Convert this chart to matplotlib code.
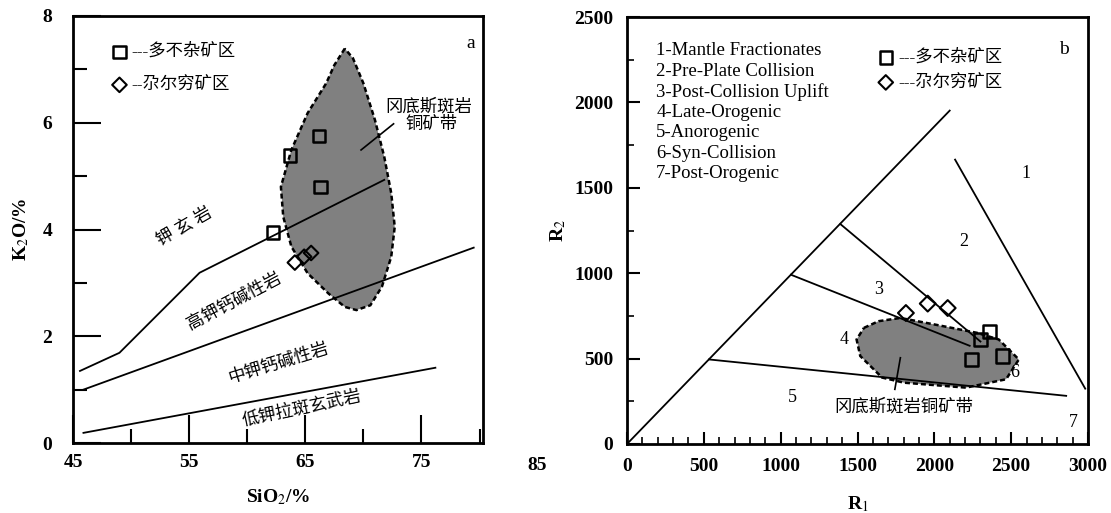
#!/usr/bin/env python
import numpy as np
import matplotlib
matplotlib.use('Agg')
from matplotlib import pyplot as plt
from matplotlib.patches import Polygon

plt.rcParams['font.family'] = ['Liberation Serif', 'Noto Sans CJK SC']
plt.rcParams['mathtext.fontset'] = 'stix'

### data: panel a (SiO2 - K2O) ###
shosh_x = [45.6, 49.0, 55.9, 71.8]
shosh_y = [1.35, 1.69, 3.19, 4.93]
hk_x = [45.9, 79.5]
hk_y = [1.00, 3.66]
mk_x = [45.9, 76.2]
mk_y = [0.19, 1.41]

blob_a_x = [68.4, 67.5, 66.8, 65.2, 63.8, 62.9, 63.1, 63.8, 65.2, 67.0, 68.4,
            69.4, 70.6, 71.6, 72.4, 72.7, 72.4, 71.8, 71.0, 70.0, 69.1]
blob_a_y = [7.39, 7.08, 6.74, 6.18, 5.49, 4.80, 4.24, 3.68, 3.18, 2.80, 2.55,
            2.49, 2.58, 2.93, 3.49, 4.05, 4.68, 5.36, 6.05, 6.74, 7.21]

sq_a_x = [62.2, 63.7, 66.2, 66.3]
sq_a_y = [3.94, 5.39, 5.75, 4.80]
di_a_x = [64.1, 64.9, 65.5]
di_a_y = [3.38, 3.49, 3.56]

### data: panel b (R1 - R2) ###
lineA_x = [0, 2100]
lineA_y = [0, 1952]
lineB_x = [2135, 2982]
lineB_y = [1665, 324]
lineC_x = [1388, 2300]
lineC_y = [1288, 600]
lineD_x = [1067, 2230]
lineD_y = [991, 575]
lineE_x = [534, 2858]
lineE_y = [495, 282]

blob_b_x = [1542, 1637, 1779, 2000, 2277, 2419, 2550, 2467, 2206, 1803, 1660,
            1518, 1494]
blob_b_y = [680, 719, 738, 700, 651, 612, 495, 379, 330, 359, 389, 515, 612]

sq_b_x = [2360, 2301, 2242, 2443]
sq_b_y = [660, 612, 495, 515]
di_b_x = [1815, 1957, 2087]
di_b_y = [767, 822, 796]

field_labels = ['1', '2', '3', '4', '5', '6', '7']
field_x = [2597, 2194, 1637, 1411, 1079, 2526, 2906]
field_y = [1583, 1185, 903, 612, 272, 418, 126]
field_names = ['1-Mantle Fractionates', '2-Pre-Plate Collision',
               '3-Post-Collision Uplift', '4-Late-Orogenic', '5-Anorogenic',
               '6-Syn-Collision', '7-Post-Orogenic']

fig = plt.figure(figsize=(11.11, 5.13), dpi=100)
ax1 = fig.add_axes([73/1111, 1-443/513, (483-73)/1111, (443-16)/513])
ax2 = fig.add_axes([627/1111, 1-444/513, (1088-627)/1111, (444-17)/513])

### panel a ###
ax = ax1
ax.add_patch(Polygon(np.column_stack([blob_a_x, blob_a_y]), closed=True,
                     facecolor='#808080', edgecolor='black', linestyle=(0, (2, 1.2)),
                     linewidth=1.8, zorder=1))
ax.plot(shosh_x, shosh_y, color='black', lw=1.3, zorder=2)
ax.plot(hk_x, hk_y, color='black', lw=1.3, zorder=2)
ax.plot(mk_x, mk_y, color='black', lw=1.3, zorder=2)
ax.plot([72.6, 69.8], [5.98, 5.49], color='black', lw=1.2, zorder=2)
ax.scatter(sq_a_x, sq_a_y, marker='s', s=80, facecolors='none',
           edgecolors='black', linewidths=1.8, zorder=3)
ax.scatter(di_a_x, di_a_y, marker='D', s=55, facecolors='none',
           edgecolors='black', linewidths=1.5, zorder=3)

ax.scatter([49.0], [7.33], marker='s', s=80, facecolors='none',
           edgecolors='black', linewidths=1.8, clip_on=False)
ax.scatter([49.0], [6.71], marker='D', s=55, facecolors='none',
           edgecolors='black', linewidths=1.5, clip_on=False)
ax.text(50.0, 7.33, '---多不杂矿区', fontsize=12.5, va='center', ha='left')
ax.text(50.0, 6.71, '--尕尔穷矿区', fontsize=12.5, va='center', ha='left')
ax.text(79.2, 7.49, 'a', fontsize=14, ha='center', va='center')
ax.text(75.6, 6.30, '冈底斯斑岩', fontsize=12.5, ha='center', va='center')
ax.text(75.9, 5.96, '铜矿带', fontsize=12.5, ha='center', va='center')
ax.text(54.6, 4.05, '钾 玄 岩', fontsize=12.5, ha='center', va='center', rotation=30)
ax.text(58.9, 2.64, '高钾钙碱性岩', fontsize=12.5, ha='center', va='center', rotation=28)
ax.text(62.7, 1.49, '中钾钙碱性岩', fontsize=12.5, ha='center', va='center', rotation=17)
ax.text(64.7, 0.64, '低钾拉斑玄武岩', fontsize=12.5, ha='center', va='center', rotation=12)

ax.set_xlim(45, 80.3)
ax.set_ylim(0, 8)
ax.set_xticks([45, 55, 65, 75])
ax.set_xticks([50, 60, 70, 80], minor=True)
ax.set_yticks([0, 2, 4, 6, 8])
ax.set_yticks([1, 3, 5, 7], minor=True)
ax.tick_params(which='major', direction='in', length=20, width=1.5,
               labelsize=14, pad=8, top=False, right=False)
ax.tick_params(which='minor', direction='in', length=10, width=1.5,
               top=False, right=False)
ax.tick_params(axis='y', which='major', pad=15)
for lab in ax.get_xticklabels() + ax.get_yticklabels():
    lab.set_fontweight('bold')
ax.text(85, -0.42, '85', fontsize=14, fontweight='bold', ha='center',
        va='center', clip_on=False)
ax.set_xlabel(r'SiO$_2$/%', fontsize=14, fontweight='bold', labelpad=12)
ax.set_ylabel(r'K$_2$O/%', fontsize=14, fontweight='bold', labelpad=8)
for sp in ax.spines.values():
    sp.set_linewidth(2)

### panel b ###
ax = ax2
ax.add_patch(Polygon(np.column_stack([blob_b_x, blob_b_y]), closed=True,
                     facecolor='#808080', edgecolor='black', linestyle=(0, (2, 1.2)),
                     linewidth=1.8, zorder=1))
for lx, ly in [(lineA_x, lineA_y), (lineB_x, lineB_y), (lineC_x, lineC_y),
               (lineD_x, lineD_y), (lineE_x, lineE_y)]:
    ax.plot(lx, ly, color='black', lw=1.3, zorder=2)
ax.plot([1743, 1779], [320, 505], color='black', lw=1.2, zorder=2)
ax.scatter(sq_b_x, sq_b_y, marker='s', s=90, facecolors='none',
           edgecolors='black', linewidths=1.8, zorder=3)
ax.scatter(di_b_x, di_b_y, marker='D', s=65, facecolors='none',
           edgecolors='black', linewidths=1.5, zorder=3)

for lab, x, y in zip(field_labels, field_x, field_y):
    ax.text(x, y, lab, fontsize=13, ha='center', va='center')
for i, name in enumerate(field_names):
    ax.text(190, 2302 - i*120, name, fontsize=13.5, ha='left', va='center')

ax.scatter([1684], [2263], marker='s', s=80, facecolors='none',
           edgecolors='black', linewidths=1.8)
ax.scatter([1684], [2117], marker='D', s=55, facecolors='none',
           edgecolors='black', linewidths=1.5)
ax.text(1767, 2263, '---多不杂矿区', fontsize=12.5, va='center', ha='left')
ax.text(1767, 2117, '---尕尔穷矿区', fontsize=12.5, va='center', ha='left')
ax.text(2846, 2312, 'b', fontsize=14, ha='center', va='center')
ax.text(1803, 214, '冈底斯斑岩铜矿带', fontsize=12.5, ha='center', va='center')

ax.set_xlim(0, 3000)
ax.set_ylim(0, 2500)
ax.set_xticks(np.arange(0, 3001, 500))
ax.set_xticks(np.arange(0, 3001, 100), minor=True)
ax.set_yticks(np.arange(0, 2501, 500))
ax.set_yticks(np.arange(250, 2500, 500), minor=True)
ax.tick_params(which='major', direction='in', length=9, width=1.5,
               labelsize=14, pad=10, top=False, right=False)
ax.tick_params(which='minor', direction='in', length=5, width=1.2,
               top=False, right=False)
for lab in ax.get_xticklabels() + ax.get_yticklabels():
    lab.set_fontweight('bold')
ax.set_xlabel(r'R$_1$', fontsize=14, fontweight='bold', labelpad=14)
ax.set_ylabel(r'R$_2$', fontsize=14, fontweight='bold', labelpad=4)
for sp in ax.spines.values():
    sp.set_linewidth(2)

fig.savefig('out.png', dpi=100)
